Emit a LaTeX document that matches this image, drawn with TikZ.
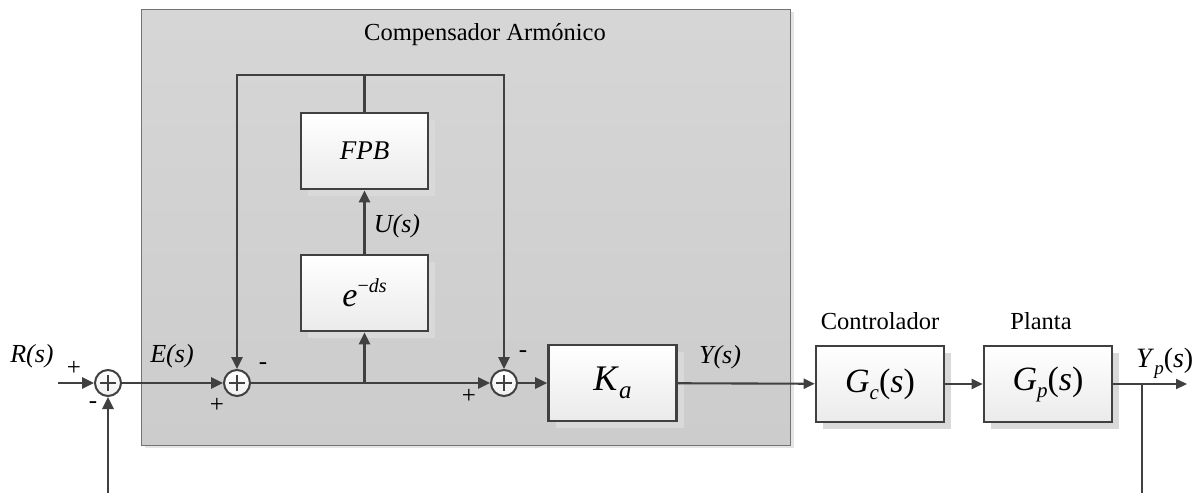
\documentclass[tikz,border=0pt]{standalone}
\usepackage{fontspec}
\setmainfont{Liberation Serif}
\usetikzlibrary{arrows.meta,shadows}
\definecolor{ln}{HTML}{404040}
\newcommand{\fs}[1]{\fontsize{#1}{#1}\selectfont}
\begin{document}
\begin{tikzpicture}[x=1pt,y=-1pt,
  blk/.style={draw=ln,line width=2.6pt,minimum width=127pt,minimum height=76pt,inner sep=0pt,
    top color=white,bottom color=black!8,
    drop shadow={shadow xshift=7pt,shadow yshift=-7pt,fill=black!15,opacity=1}},
  sumj/.style={circle,draw=ln,line width=2pt,minimum size=26pt,inner sep=0pt,
    top color=white,bottom color=black!6,
    path picture={\draw[ln,line width=1.3pt]
      ([xshift=-8pt]path picture bounding box.center) -- ([xshift=8pt]path picture bounding box.center)
      ([yshift=-8pt]path picture bounding box.center) -- ([yshift=8pt]path picture bounding box.center);}},
  thick line/.style={draw=ln,line width=2.6pt},
  thin line/.style={draw=ln,line width=2.1pt},
  arr/.style={-{Triangle[length=12pt,width=11pt]}},
  sarr/.style={-{Triangle[length=11pt,width=10pt]}},
  sig/.style={font=\fs{25}},
  lab/.style={font=\fs{26}\itshape,inner sep=0pt}
]
\useasboundingbox (0,0) rectangle (1203,493);
% compensator background
\node[draw=black!55,line width=1pt,minimum width=649pt,minimum height=436pt,inner sep=0pt,
  top color=black!16,bottom color=black!20,
  drop shadow={shadow xshift=3pt,shadow yshift=-3pt,fill=black!10,opacity=1}]
  (comp) at (466,227) {};
\node[font=\fs{24.5},anchor=base] (title) at (485,40) {Compensador Armónico};

% blocks
\node[blk] (fpb) at (364.5,151) {\fs{27}\itshape FPB};
\node[blk] (edl) at (364.5,293) {\fs{34}\textit{e}\raisebox{14pt}{\fs{20}−\textit{ds}}};
\node[blk,minimum width=128pt] (ka) at (612.5,383) {\fs{36}\textit{K}\raisebox{-8pt}{\fs{25}\textit{a}}};
\node[blk,minimum width=128pt] (gc) at (880,384) {\fs{34}\textit{G}\raisebox{-7pt}{\fs{21}\textit{c}}(\textit{s})};
\node[blk,minimum width=128pt] (gp) at (1048,384) {\fs{34}\textit{G}\raisebox{-7pt}{\fs{21}\textit{p}}(\textit{s})};

% summing junctions
\node[sumj] (c1) at (108,383) {};
\node[sumj] (c2) at (237,383) {};
\node[sumj] (c3) at (504,383) {};

% coordinates
\coordinate (in) at (58,383);
\coordinate (fbl) at (108,493);
\coordinate (br) at (364.5,383);
\coordinate (top) at (364.5,75);
\coordinate (tl) at (237,75);
\coordinate (tr) at (504,75);
\coordinate (brout) at (1142,384);
\coordinate (fbr) at (1142,493);
\coordinate (out) at (1187,384);

% connectors
\draw[thick line,arr] (in) -- (c1);
\draw[thick line,arr] (fbl) -- (c1);
\draw[thick line,arr] (c1) -- (c2);
\draw[thick line,arr] (c2) -- (c3);
\draw[thick line,arr] (br) -- (edl);
\draw[thick line,arr] (edl) -- (fpb);
\draw[thick line] (fpb) -- (top);
\draw[thick line,arr] (top) -- (tl) -- (c2);
\draw[thick line,arr] (top) -- (tr) -- (c3);
\draw[thick line,arr] (c3) -- (ka);
\draw[thin line,sarr] (ka) -- (gc);
\draw[thin line,sarr] (gc) -- (gp);
\draw[thin line,sarr] (gp.east |- out) -- (out);
\draw[thin line] (brout) -- (fbr);

% signs
\node[sig] (s1) at (74,368) {+};
\node[sig] (s2) at (93,405) {-};
\node[sig] (s3) at (263,366) {-};
\node[sig] (s4) at (217,405) {+};
\node[sig] (s5) at (523,354) {-};
\node[sig] (s6) at (469,396) {+};

% labels
\node[lab] (lr) at (32,356) {R(s)};
\node[lab] (le) at (172,356) {E(s)};
\node[lab] (lu) at (397,226) {U(s)};
\node[lab] (ly) at (720,357) {Y(s)};
\node[anchor=base west,inner sep=0pt] (lyp) at (1136,367) {\fs{28}\textit{Y}\raisebox{-7pt}{\fs{19}\textit{p}}(\textit{s})};
\node[font=\fs{24.5},anchor=base] (lc) at (880,329) {Controlador};
\node[font=\fs{24.5},anchor=base] (lp) at (1041,329) {Planta};
\end{tikzpicture}
\end{document}
